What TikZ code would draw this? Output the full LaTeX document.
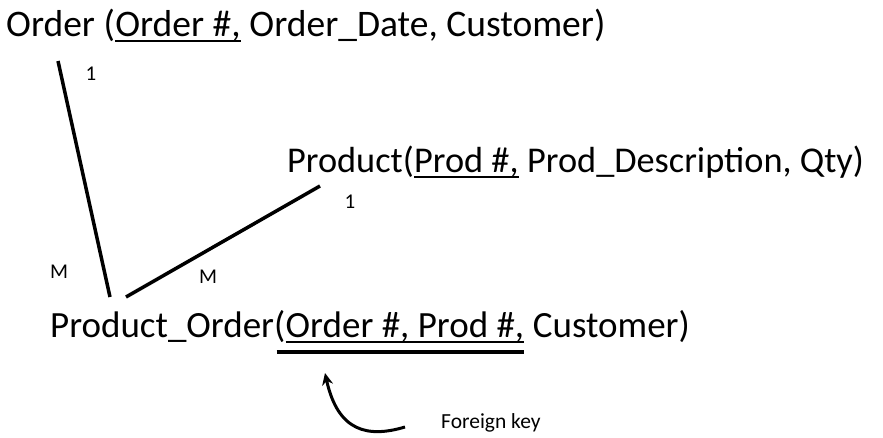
\documentclass[tikz,border=0pt]{standalone}
\usepackage{fontspec}
\setmainfont{Carlito}
\usetikzlibrary{arrows.meta}

\begin{document}
\begin{tikzpicture}[x=1pt,y=-1pt,
  big/.style={font=\fontsize{37}{44}\selectfont, inner sep=0pt, anchor=base west},
  small/.style={font=\fontsize{21}{25}\selectfont, inner sep=0pt},
  link/.style={line width=3.5pt},
  uline/.style={line width=2.4pt},
  keybar/.style={line width=4pt},
]
\useasboundingbox[fill=white] (0,0) rectangle (883,437);

% Order relation
\node[big, font=\fontsize{37.5}{44}\selectfont] (ordA) at (6,36) {Order (};
\node[big, font=\fontsize{37.5}{44}\selectfont] (ordK) at (ordA.base east) {Order \#,};
\node[big, font=\fontsize{37.5}{44}\selectfont] (ordR) at (ordK.base east) {\ Order\_Date, Customer)};
\draw[uline] ([yshift=-5pt]ordK.base west) -- ([yshift=-5pt]ordK.base east);

% Product relation
\node[big, font=\fontsize{36.3}{44}\selectfont] (prA) at (287,172) {Product(};
\node[big, font=\fontsize{36.3}{44}\selectfont] (prK) at (prA.base east) {Prod \#,};
\node[big, font=\fontsize{36.3}{44}\selectfont] (prR) at (prK.base east) {\ Prod\_Description, Qty)};
\draw[uline] ([yshift=-5pt]prK.base west) -- ([yshift=-5pt]prK.base east);

% Product_Order relation with its composite key
\node[big] (poA) at (50,337) {Product\_Order(};
\node[big] (poK) at (poA.base east) {Order \#, Prod \#,};
\node[big] (poR) at (poK.base east) {\ Customer)};
\draw[uline] ([yshift=-5pt]poK.base west) -- ([yshift=-5pt]poK.base east);
\draw[keybar] ([xshift=-9pt,yshift=-15pt]poK.base west) -- ([yshift=-15pt]poK.base east);

% relationship end points
\coordinate (ordEnd) at (58,61);
\coordinate (poEndA) at (110,297);
\coordinate (poEndB) at (126,297);
\coordinate (prEnd) at (320,186);

\draw[link] (ordEnd) -- (poEndA);
\draw[link] (poEndB) -- (prEnd);

% cardinalities
\node[small] (c1) at (91,74) {1};
\node[small] (c2) at (59,272) {M};
\node[small] (c3) at (208,277) {M};
\node[small] (c4) at (350,202) {1};

% foreign key annotation
\node[small, font=\fontsize{21.5}{26}\selectfont, anchor=base west] (fk) at (441,428) {Foreign key};
\coordinate (fkTail) at (405,427);
\coordinate (fkTip) at (325,373);
\draw[line width=3pt, -{Stealth[length=12pt,width=11pt]}]
  (fkTail) .. controls (368,438) and (338,432) .. (fkTip);
\end{tikzpicture}
\end{document}
